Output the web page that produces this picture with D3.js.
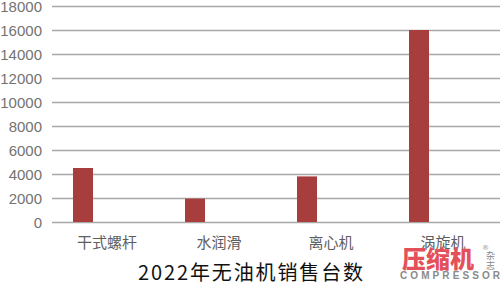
<!DOCTYPE html>
<html><head><meta charset="utf-8">
<script src="https://cdn.jsdelivr.net/npm/d3@7"></script>
<style>body{margin:0;background:#fff}svg{display:block}</style>
</head><body><svg id="c" width="500" height="284"></svg>
<script>
const categories = ["干式螺杆", "水润滑", "离心机", "涡旋机"];
const values = [4500, 1950, 3800, 16000];
const yTicks = [0, 2000, 4000, 6000, 8000, 10000, 12000, 14000, 16000, 18000];
const title = "2022年无油机销售台数";

const svg = d3.select("#c");
const y = d3.scaleLinear().domain([0, 18000]).range([222, 6]);
const x = d3.scaleBand().domain(categories).range([27, 475]);

const yAxis = d3.axisLeft(y).tickValues(yTicks).tickSize(-448).tickPadding(10).tickFormat(d3.format("d"));
const g = svg.append("g").attr("transform", "translate(52,0)").call(yAxis);
g.select(".domain").remove();
g.selectAll(".tick line").attr("stroke", "#a8a8a8").attr("stroke-width", 1.5);
g.selectAll(".tick text").attr("fill", "#737373").style("font-family", "'Liberation Sans', sans-serif").style("font-size", "15px").attr("dy", "0.36em");

svg.selectAll("rect.bar").data(values).enter().append("rect")
  .attr("class", "bar")
  .attr("x", (d, i) => x(categories[i]) + x.bandwidth() / 2 - 10)
  .attr("width", 20)
  .attr("y", d => y(d))
  .attr("height", d => y(0) - y(d))
  .attr("fill", "#a83d3e");

svg.selectAll("text.cat").data(categories).enter().append("text")
  .attr("class", "cat")
  .attr("x", d => x(d) + x.bandwidth() / 2 + 24)
  .attr("y", 248)
  .attr("text-anchor", "middle")
  .attr("fill", "#5e5e5e")
  .style("font-family", "'Noto Sans CJK SC', sans-serif")
  .style("font-size", "15px")
  .text(d => d);

svg.append("text").attr("x", 138).attr("y", 280)
  .attr("fill", "#111").style("font-family", "'Noto Sans CJK SC', sans-serif")
  .style("font-size", "20px").attr("textLength", 225).attr("lengthAdjust", "spacing").text(title);

// watermark
svg.append("text").attr("x", 402).attr("y", 268).attr("fill", "#e4505a")
  .style("font-family", "'Noto Sans CJK SC', sans-serif").style("font-weight", "900")
  .style("font-size", "24px").attr("textLength", 72).text("压缩机");
svg.append("text").attr("x", 482).attr("y", 250).attr("fill", "#999")
  .style("font-family", "'DejaVu Sans', sans-serif").style("font-size", "7px").text("®");
svg.append("text").attr("x", 486).attr("y", 259).attr("fill", "#888")
  .style("font-family", "'Noto Sans CJK SC', sans-serif").style("font-size", "9px").text("杂");
svg.append("text").attr("x", 486).attr("y", 269).attr("fill", "#888")
  .style("font-family", "'Noto Sans CJK SC', sans-serif").style("font-size", "9px").text("志");
svg.append("text").attr("x", 400).attr("y", 279).attr("fill", "#8a8a8a")
  .style("font-family", "'Liberation Sans', sans-serif").style("font-weight", "bold")
  .style("font-size", "10px").attr("textLength", 100).text("COMPRESSOR");
</script></body></html>
